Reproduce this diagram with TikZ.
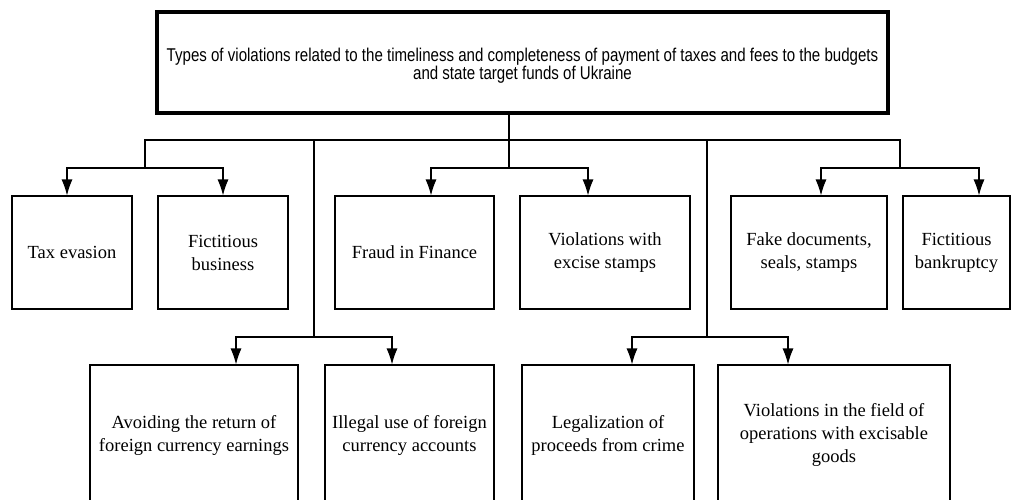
\documentclass[tikz,border=0pt]{standalone}
\usepackage{fontspec}
\setmainfont{Liberation Serif}
\newfontfamily\narrowsans[FakeStretch=0.815]{Liberation Sans}
\usetikzlibrary{arrows.meta}

\begin{document}
\begin{tikzpicture}[x=1pt, y=-1pt, line width=1.1pt, >={Latex[length=16pt,width=11pt]},
    title/.style={draw, line width=4pt, rectangle, minimum width=731pt, minimum height=101pt, align=center, font=\narrowsans\fontsize{18.5}{18}\selectfont},
    block/.style={draw, fill=white, rectangle, minimum height=113pt, align=center, font=\fontsize{18.5}{23}\selectfont},
    lowblock/.style={block, minimum height=140pt}]

    \useasboundingbox (0,0) rectangle (1011,499);
    \clip (0,0) rectangle (1011,499);

    % Nodes
    \node [title] (root) at (522.5,62.5) {\rule{0pt}{20pt}Types of violations related to the timeliness and completeness of payment of taxes and fees to the budgets\\and state target funds of Ukraine};

    \node [block, minimum width=120pt] (tax) at (72,252.5) {Tax evasion};
    \node [block, minimum width=130pt, right of=tax, node distance=151pt] (fict) {Fictitious\\business};
    \node [block, minimum width=159pt, right of=fict, node distance=191.5pt] (fraud) {Fraud in Finance};
    \node [block, minimum width=170pt, right of=fraud, node distance=190.5pt] (excise) {Violations with\\excise stamps};
    \node [block, minimum width=156pt, right of=excise, node distance=204pt] (fake) {Fake documents,\\seals, stamps};
    \node [block, minimum width=107pt, right of=fake, node distance=147.5pt] (bankr) {Fictitious\\bankruptcy};

    \node [lowblock, minimum width=208pt] (avoid) at (194,435) {Avoiding the return of\\foreign currency earnings};
    \node [lowblock, minimum width=169pt, right of=avoid, node distance=215.5pt] (illegal) {Illegal use of foreign\\currency accounts};
    \node [lowblock, minimum width=172pt, right of=illegal, node distance=198.5pt] (legal) {Legalization of\\proceeds from crime};
    \node [lowblock, minimum width=232pt, right of=legal, node distance=226pt] (goods) {Violations in the field of\\operations with excisable\\goods};

    % Junctions
    \coordinate (bus) at (509,140);
    \coordinate (jleft) at (145,168);
    \coordinate (jmid) at (509,168);
    \coordinate (jright) at (900,168);
    \coordinate (jlow1) at (314,337);
    \coordinate (jlow2) at (707,337);

    % Lines
    \draw ([xshift=-13.5pt]root.south) -- (jmid);
    \draw (jleft) |- (bus) -| (jright);
    \draw (jlow1) -- (jlow1 |- bus);
    \draw (jlow2) -- (jlow2 |- bus);

    % Arrows
    \draw [->] (jleft) -| ([xshift=-5pt]tax.north);
    \draw [->] (jleft) -| (fict.north);
    \draw [->] (jmid) -| ([xshift=16.5pt]fraud.north);
    \draw [->] (jmid) -| ([xshift=-17pt]excise.north);
    \draw [->] (jright) -| ([xshift=12pt]fake.north);
    \draw [->] (jright) -| ([xshift=22.5pt]bankr.north);
    \draw [->] (jlow1) -| ([xshift=42pt]avoid.north);
    \draw [->] (jlow1) -| ([xshift=-17.5pt]illegal.north);
    \draw [->] (jlow2) -| ([xshift=24pt]legal.north);
    \draw [->] (jlow2) -| ([xshift=-46pt]goods.north);

\end{tikzpicture}
\end{document}
